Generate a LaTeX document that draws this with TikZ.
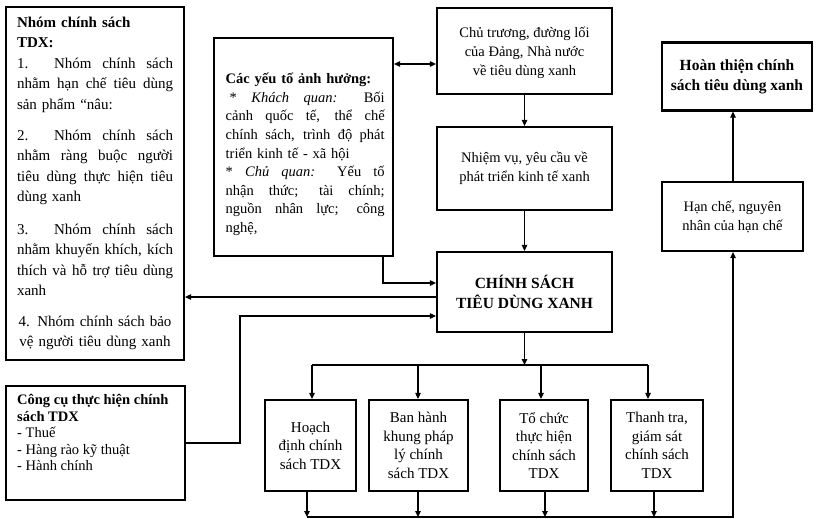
\documentclass[tikz,border=0pt]{standalone}
\usepackage{fontspec}
\setmainfont{Liberation Serif}
\usetikzlibrary{arrows.meta,calc}
\newcommand{\jline}[2][156pt]{\makebox[#1][s]{\spaceskip=0pt\xspaceskip=0pt #2}}
\newcommand{\cenline}[2][156pt]{\makebox[#1][c]{#2}}
\tikzset{
  box/.style={draw, line width=2.2pt, inner sep=0pt, align=center},
  maintext/.style={font=\fontsize{14.5}{19}\selectfont},
  smalltext/.style={font=\fontsize{15}{18.5}\selectfont},
  conn/.style={line width=1.1pt},
  arr/.style={conn, -{Triangle[length=6pt,width=5.5pt]}},
  arrtwo/.style={conn, {Triangle[length=6pt,width=5.5pt]}-{Triangle[length=6pt,width=5.5pt]}},
}
\begin{document}
\begin{tikzpicture}[x=1pt, y=-1pt]
\fill[white] (0,0) rectangle (816,519);
\useasboundingbox (0,0) rectangle (816,519);

% left box
\node[box, minimum width=178pt, minimum height=353pt, text width=156pt, align=left,
      font=\fontsize{15}{20.5}\selectfont] (L) at (95,183.5) {%
\textbf{Nhóm chính sách}\\
\textbf{TDX:}\\
\jline{1. Nhóm chính sách}\\
\jline{nhằm hạn chế tiêu dùng}\\
sản phẩm “nâu:\\[10.5pt]
\jline{2. Nhóm chính sách}\\
\jline{nhằm ràng buộc người}\\
\jline{tiêu dùng thực hiện tiêu}\\
dùng xanh\\[12pt]
\jline{3. Nhóm chính sách}\\
\jline{nhằm khuyến khích, kích}\\
\jline{thích và hỗ trợ tiêu dùng}\\
xanh\\[10pt]
\cenline{4. Nhóm chính sách bảo}\\
\cenline{vệ người tiêu dùng xanh}};

% factors box
\node[box, minimum width=179pt, minimum height=218pt] (F) at (303.5,147) {};
\node[anchor=north west, inner sep=0pt, text width=159pt, align=left,
      font=\fontsize{14.5}{18.6}\selectfont] (Ft) at (225.5,73) {%
\makebox[159pt][l]{\textbf{Các yếu tố ảnh hưởng:}}\\
\jline[159pt]{\hspace*{4pt}* \textit{Khách quan:} Bối}\\
\jline[159pt]{cảnh quốc tế, thể chế}\\
\jline[159pt]{chính sách, trình độ phát}\\
triển kinh tế - xã hội\\
\jline[159pt]{* \textit{Chủ quan:} Yếu tố}\\
\jline[159pt]{nhận thức; tài chính;}\\
\jline[159pt]{nguồn nhân lực; công}\\
nghệ,};

% centre column
\node[box, maintext, minimum width=175pt, minimum height=86pt] (CT) at (524.5,51)
  {\rule{0pt}{15pt}Chủ trương, đường lối\\của Đảng, Nhà nước\\về tiêu dùng xanh};
\node[box, maintext, minimum width=175pt, minimum height=83pt] (NV) at (524.5,168.5)
  {Nhiệm vụ, yêu cầu về\\phát triển kinh tế xanh};
\node[box, font=\fontsize{15.5}{20}\selectfont\bfseries, minimum width=175pt, minimum height=80pt] (CS) at (524.5,292)
  {CHÍNH SÁCH\\TIÊU DÙNG XANH};

% right column
\node[box, font=\fontsize{15.5}{19.5}\selectfont\bfseries, minimum width=150pt, minimum height=68pt] (HT) at (737,76.5)
  {Hoàn thiện chính\\sách tiêu dùng xanh};
\node[box, maintext, minimum width=141pt, minimum height=69pt] (HC) at (732.5,216.5)
  {Hạn chế, nguyên\\nhân của hạn chế};

% tools box
\node[box, minimum width=179pt, minimum height=114pt] (CC) at (95.5,443) {};
\node[anchor=north west, inner sep=0pt, align=left, font=\fontsize{14.5}{16.6}\selectfont] (CCt) at (17,394) {%
\textbf{Công cụ thực hiện chính}\\
\textbf{sách TDX}\\
- Thuế\\
- Hàng rào kỹ thuật\\
- Hành chính};

% bottom boxes
\node[box, smalltext, minimum width=91pt, minimum height=91pt] (B1) at (310.5,445.5)
  {Hoạch\\định chính\\sách TDX};
\node[box, smalltext, minimum width=99pt, minimum height=91pt] (B2) at (418.5,445.5)
  {Ban hành\\khung pháp\\lý chính\\sách TDX};
\node[box, smalltext, minimum width=88pt, minimum height=91pt] (B3) at (544,445.5)
  {Tổ chức\\thực hiện\\chính sách\\TDX};
\node[box, smalltext, minimum width=92pt, minimum height=91pt] (B4) at (657,445.5)
  {Thanh tra,\\giám sát\\chính sách\\TDX};

% helper coordinates
\coordinate (yA) at (0,64);
\coordinate (xF) at (383,0);
\coordinate (yF) at (0,283);
\coordinate (yL) at (0,297);
\coordinate (yC) at (0,316);
\coordinate (xC) at (240,0);
\coordinate (yBus) at (0,365);
\coordinate (yBot) at (0,517);
\coordinate (xR) at (733,0);
\coordinate (xb1) at (312,0);
\coordinate (xb2) at (418,0);
\coordinate (xb3) at (541,0);
\coordinate (xb4) at (648,0);
\coordinate (xd1) at (307,0);
\coordinate (xd2) at (418,0);
\coordinate (xd3) at (545,0);
\coordinate (xd4) at (654,0);

% connectors
\draw[arrtwo] (F.east |- yA) -- (CT.west |- yA);
\draw[arr] (CT) -- (NV);
\draw[arr] (NV) -- (CS);
\draw[arr] (xF |- F.south) -- (xF |- yF) -- (CS.west |- yF);
\draw[arr] (CS.west |- yL) -- (L.east |- yL);
\draw[arr] (CC.east) -- (xC |- CC.east) -- (xC |- yC) -- (CS.west |- yC);

\draw[arr] (CS.south) -- (CS.south |- yBus);
\draw[conn] (xb1 |- yBus) -- (xb4 |- yBus);
\draw[arr] (xb1 |- yBus) -- (xb1 |- B1.north);
\draw[arr] (xb2 |- yBus) -- (xb2 |- B2.north);
\draw[arr] (xb3 |- yBus) -- (xb3 |- B3.north);
\draw[arr] (xb4 |- yBus) -- (xb4 |- B4.north);

\draw[arr] (xd1 |- B1.south) -- (xd1 |- yBot);
\draw[arr] (xd2 |- B2.south) -- (xd2 |- yBot);
\draw[arr] (xd3 |- B3.south) -- (xd3 |- yBot);
\draw[arr] (xd4 |- B4.south) -- (xd4 |- yBot);
\draw[arr] (xd1 |- yBot) -- (xR |- yBot) -- (xR |- HC.south);
\draw[arr] (xR |- HC.north) -- (xR |- HT.south);
\end{tikzpicture}
\end{document}
